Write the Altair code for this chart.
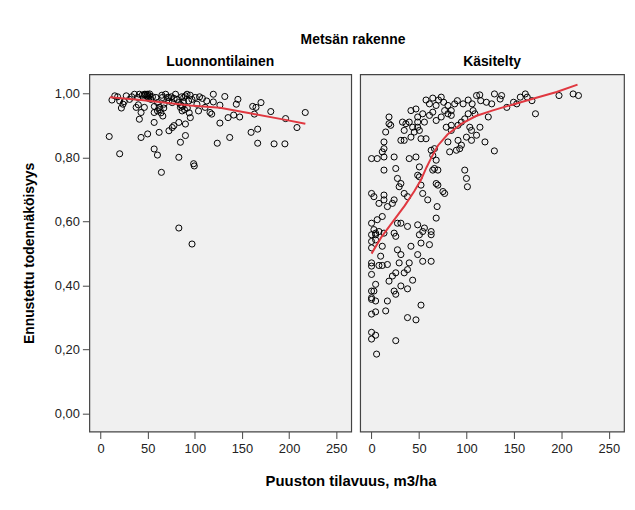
import altair as alt
import pandas as pd

# ---------------- data ----------------
left_x = [15, 20.2, 23.7, 27.2, 30.7, 35.9, 39.4, 41.1, 46.4, 48.1, 49.9, 51.6, 53.3, 58.6, 60.3, 62.1,
          60.3, 56.8, 37.7, 42.9, 41.1, 46.4, 69, 70.8, 72.5, 76, 79.5, 81.2, 83, 84.7, 86.5, 90, 91.7,
          93.4, 96.9, 100.4, 102.2, 103.9, 110.9, 116.1, 119.6, 112.6, 65.6, 67.3, 56.8, 62.1, 72.5, 76,
          77.8, 83, 90, 95.2, 90, 84.7, 49.9, 42.9, 9.1, 20.2, 56.8, 60.3, 83, 98.7, 72.5, 88.2,
          119.6, 117.9, 126.6, 131.8, 126.6, 135.3, 141.2, 147.6, 145.7, 144, 161.4, 164.9, 170.2, 163.2,
          180.6, 196.3, 217.2, 208.4, 159.7, 166.7, 137, 123.8, 166.7, 184.1, 195.6,
          64.5, 99.4, 83, 97,
          12, 18, 25, 33, 44, 50, 52, 55, 65, 75, 78, 86, 88, 95, 105, 108, 47, 49, 51, 57, 63, 64, 66,
          67, 85, 87, 89, 92, 94, 40, 22]
left_y = [0.993, 0.977, 0.967, 0.993, 0.982, 0.998, 0.988, 0.998, 0.998, 0.998, 0.998, 0.993, 0.982,
          0.988, 0.972, 0.957, 0.946, 0.941, 0.957, 0.941, 0.920, 0.957, 0.998, 0.988, 0.977, 0.972,
          0.998, 0.982, 0.972, 0.957, 0.946, 0.993, 0.998, 0.977, 0.982, 0.988, 0.967, 0.946, 0.957,
          0.941, 0.998, 0.977, 0.988, 0.967, 0.910, 0.879, 0.884, 0.894, 0.900, 0.910, 0.905, 0.925,
          0.869, 0.848, 0.874, 0.863, 0.866, 0.812, 0.827, 0.808, 0.801, 0.781, 0.988, 0.988,
          0.974, 0.936, 0.964, 0.991, 0.908, 0.925, 0.933, 0.927, 0.982, 0.967, 0.960, 0.957, 0.972,
          0.936, 0.944, 0.922, 0.941, 0.894, 0.879, 0.889, 0.863, 0.845, 0.845, 0.843, 0.843,
          0.754, 0.774, 0.580, 0.530,
          0.980, 0.990, 0.975, 0.990, 0.995, 0.990, 0.999, 0.990, 0.995, 0.990, 0.985, 0.990, 0.975,
          0.995, 0.990, 0.985, 0.995, 0.993, 0.985, 0.960, 0.950, 0.940, 0.930, 0.955, 0.965, 0.960,
          0.950, 0.955, 0.940, 0.965, 0.955]

right_x = [57.4, 61, 64.5, 68, 70.6, 73.4, 76, 80.5, 84, 87.6, 90.4, 96.5, 101.8, 106, 110.6, 114, 115,
           121, 126.6, 129.5, 135.5, 137, 142.5, 149.6, 153, 156.7, 162, 164, 169, 197.5, 212.4, 218,
           172.7,
           41.5, 46.8, 48.6, 53.9, 55.7, 61, 64.5, 68.1, 73.4, 77, 80.5, 84, 78.7, 84, 91.1, 94.7, 98.2,
           101.8, 103.5, 105.3, 107, 108.9, 114.2, 105.3, 100, 110.6, 84, 91.1, 94.7, 92.9, 89.4, 82.3,
           123, 119.5, 129.4, 80.5,
           18.4, 18.4, 20.2, 14.9, 13.1, 13.1, 11.3, 13.1, 6, 0, 23.8, 32.6, 36.2, 39.7, 34.4, 30.9,
           34.4, 41.5, 43.3, 45, 50.4, 52.1, 57.4, 48.6, 48.6, 39.7, 46.8, 50.4, 25.5, 13.1, 27.3, 30.9,
           29.1, 34.4, 23.8, 13.1, 7.8, 0, 2.5, 13.1, 16.7, 22, 37.9, 48.6, 50.4, 52.1, 53.9, 59.2, 64.5,
           66.3, 68.1, 69.9, 68.1, 69.9, 75.2, 77, 69.1, 68.1, 62.8, 66.3, 64.5, 98.2, 100, 101, 48.6,
           55.7, 62.8, 0, 2.5, 4.3, 6, 11.3, 27.3, 30.9, 37.9, 23.8, 13.1,
           0, 4.3, 7.8, 0, 4.3, 0, 11.3, 9.6, 25.5, 27.3, 30.9, 41.5, 50.4, 53.9, 62.8, 52.1, 61, 48.6,
           53.9, 62.8, 39.7, 29.1, 0, 0, 7.8, 11.3, 16.7, 37.9, 34.4, 25.5, 22, 18.4, 0, 4.3, 0, 2.5, 0,
           0, 4.3, 16.7, 25.5, 23.8, 30.9, 37.9, 43.3, 52.1, 0, 4.3, 14.9, 37.9, 46.8, 0, 4.3, 0, 25.5,
           5.3]
right_y = [0.980, 0.968, 0.986, 0.963, 0.980, 0.989, 0.973, 0.963, 0.947, 0.968, 0.978, 0.968, 0.980,
           0.968, 0.994, 0.996, 0.978, 0.973, 0.968, 0.999, 0.983, 0.994, 0.957, 0.973, 0.968, 0.989,
           0.999, 0.989, 0.978, 0.994, 0.999, 0.994, 0.937,
           0.947, 0.952, 0.927, 0.937, 0.911, 0.932, 0.942, 0.916, 0.927, 0.947, 0.937, 0.932, 0.895,
           0.901, 0.901, 0.911, 0.921, 0.937, 0.895, 0.885, 0.947, 0.937, 0.895, 0.854, 0.864, 0.870,
           0.885, 0.854, 0.839, 0.828, 0.823, 0.818, 0.927, 0.849, 0.821, 0.849,
           0.927, 0.906, 0.901, 0.880, 0.849, 0.828, 0.818, 0.802, 0.797, 0.797, 0.802, 0.911, 0.906,
           0.911, 0.885, 0.854, 0.854, 0.864, 0.895, 0.880, 0.885, 0.859, 0.859, 0.911, 0.895, 0.797,
           0.802, 0.771, 0.766, 0.761, 0.735, 0.719, 0.709, 0.688, 0.668, 0.668, 0.657, 0.688, 0.678,
           0.683, 0.647, 0.657, 0.678, 0.745, 0.740, 0.714, 0.688, 0.668, 0.761, 0.766, 0.792, 0.761,
           0.719, 0.714, 0.694, 0.688, 0.647, 0.611, 0.823, 0.828, 0.807, 0.761, 0.735, 0.709, 0.590,
           0.580, 0.569, 0.595, 0.575, 0.559, 0.606, 0.616, 0.595, 0.595, 0.585, 0.564, 0.564,
           0.559, 0.564, 0.569, 0.538, 0.543, 0.518, 0.523, 0.492, 0.554, 0.512, 0.497, 0.523, 0.559,
           0.569, 0.559, 0.533, 0.528, 0.497, 0.476, 0.476, 0.471, 0.471, 0.471, 0.461, 0.463, 0.463,
           0.466, 0.450, 0.440, 0.440, 0.430, 0.414, 0.435, 0.404, 0.383, 0.383, 0.362, 0.357, 0.352,
           0.352, 0.373, 0.383, 0.399, 0.390, 0.417, 0.339, 0.311, 0.318, 0.321, 0.300, 0.293, 0.254,
           0.245, 0.233, 0.228, 0.186]

left_fit_x = [9.8, 42.9, 74.3, 95.2, 126.6, 161.4, 196.3, 217.3]
left_fit_y = [0.989, 0.980, 0.970, 0.963, 0.956, 0.937, 0.918, 0.906]
right_fit_x = [0, 10, 24, 35, 45, 52, 58, 63, 70, 80, 95, 110, 127, 150, 169, 195, 217]
right_fit_y = [0.50, 0.55, 0.606, 0.65, 0.695, 0.73, 0.77, 0.80, 0.838, 0.872, 0.906, 0.93, 0.947,
               0.967, 0.983, 1.005, 1.028]

y_ticks = [0, 0.2, 0.4, 0.6, 0.8, 1.0]
x_ticks = [0, 50, 100, 150, 200, 250]
panel_titles = ["Luonnontilainen", "Käsitelty"]
main_title = "Metsän rakenne"
x_title = "Puuston tilavuus, m3/ha"
y_title = "Ennustettu todennäköisyys"

# ---------------- chart ----------------
FONT = "Liberation Sans"
X_DOMAIN = [-12, 266]
Y_DOMAIN = [-0.056, 1.06]
label_expr = "replace(format(datum.value, '.2f'), '.', ',')"


def panel(px, py, fx, fy, title, show_y, width):
    pts = pd.DataFrame({"x": px, "y": py})
    fit = pd.DataFrame({"x": fx, "y": fy})
    xenc = alt.X("x:Q", scale=alt.Scale(domain=X_DOMAIN, nice=False, zero=False),
                 axis=alt.Axis(values=x_ticks, title=None, grid=False, domain=False,
                               tickSize=7, tickColor="#444", labelFont=FONT, labelFontSize=13,
                               labelColor="#222", labelPadding=4))
    if show_y:
        yaxis = alt.Axis(values=y_ticks, labelExpr=label_expr, title=y_title, grid=False,
                         domain=False, tickSize=7, tickColor="#444", labelFont=FONT,
                         labelFontSize=13, labelColor="#222", labelPadding=3,
                         titleFont=FONT, titleFontSize=14, titleFontWeight="bold",
                         titleColor="#000", titlePadding=18)
    else:
        yaxis = None
    yenc = alt.Y("y:Q", scale=alt.Scale(domain=Y_DOMAIN, nice=False, zero=False), axis=yaxis)
    points = alt.Chart(pts).mark_point(shape="circle", filled=False, color="#000",
                                       size=38, strokeWidth=1, opacity=1).encode(x=xenc, y=yenc)
    line = alt.Chart(fit).mark_line(color="#E03840", strokeWidth=2).encode(
        x="x:Q", y="y:Q", order=alt.Order("x:Q"))
    return alt.layer(points, line).properties(
        width=width, height=360,
        view=alt.ViewBackground(fill="#F0F0F0", stroke="#444", strokeWidth=1.2),
        title=alt.TitleParams(title, font=FONT, fontSize=14, fontWeight="bold", color="#000",
                              offset=5))


left = panel(left_x, left_y, left_fit_x, left_fit_y, panel_titles[0], True, 264)
right = panel(right_x, right_y, right_fit_x, right_fit_y, panel_titles[1], False, 266)

inner = alt.hconcat(left, right, spacing=7).properties(
    title=alt.TitleParams(main_title, font=FONT, fontSize=14, fontWeight="bold", color="#000",
                          anchor="middle", offset=8, dx=30))

chart = alt.vconcat(inner).properties(
    title=alt.TitleParams(x_title, orient="bottom", font=FONT, fontSize=15, fontWeight="bold",
                          color="#000", anchor="middle", offset=18, dx=28),
    padding={"left": 14, "top": 23, "right": 2, "bottom": 2},
).configure_view(fill="#F0F0F0", stroke="#444", strokeWidth=1.2).configure(background="white")

chart.save("out.html", embed_options={"renderer": "svg", "actions": False})
